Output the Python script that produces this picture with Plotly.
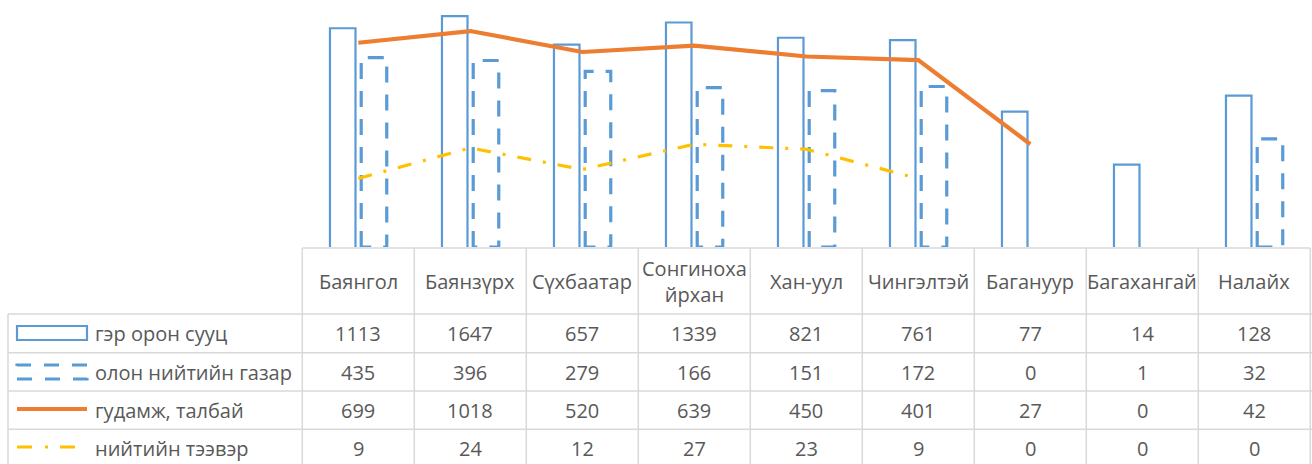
import plotly.graph_objects as go

categories = ["Баянгол", "Баянзүрх", "Сүхбаатар", "Сонгинохайрхан", "Хан-уул",
              "Чингэлтэй", "Багануур", "Багахангай", "Налайх"]
header_labels = ["Баянгол", "Баянзүрх", "Сүхбаатар", "Сонгиноха<br>йрхан", "Хан-уул",
                 "Чингэлтэй", "Багануур", "Багахангай", "Налайх"]
ger = [1113, 1647, 657, 1339, 821, 761, 77, 14, 128]
olon = [435, 396, 279, 166, 151, 172, 0, 1, 32]
gudamj = [699, 1018, 520, 639, 450, 401, 27, 0, 42]
teever = [9, 24, 12, 27, 23, 9, 0, 0, 0]
series_names = ["гэр орон сууц", "олон нийтийн газар", "гудамж, талбай", "нийтийн тээвэр"]

W, H = 1312, 464
BLUE = "#5B9BD5"
ORANGE = "#ED7D31"
YELLOW = "#FFC000"
GRID = "#D9D9D9"
TXT = "#595959"
FONT = "Open Sans"
FS = 20

xs = list(range(len(categories)))
PX = 112.0          # pixels per category
CX0 = 358.3         # pixel centre of first category
BW = 0.228          # bar width (category units)
OFF1 = -0.139 - BW / 2
OFF2 = 0.14 - BW / 2


def pos(v):
    return [x if x and x > 0 else None for x in v]


def py(p):
    return 1 - p / H


fig = go.Figure()

fig.add_trace(go.Bar(x=xs, y=pos(ger), width=BW, offset=OFF1, name=series_names[0],
                     marker=dict(color="white", line=dict(color=BLUE, width=2.2))))

# dashed outlined bars (plotly bar outlines cannot be dashed -> outline path from data)
ox, oy = [], []
for i, v in zip(xs, olon):
    if v > 1:
        x0, x1 = i + OFF2, i + OFF2 + BW
        ox += [x0, x0, x1, x1, x0, None]
        oy += [1, v, v, 1, 1, None]
fig.add_trace(go.Bar(x=xs, y=pos(olon), width=BW, offset=OFF2, name=series_names[1],
                     marker=dict(color="rgba(255,255,255,0)", line=dict(width=0)),
                     showlegend=False))
fig.add_trace(go.Scatter(x=ox, y=oy, mode="lines", name=series_names[1],
                         line=dict(color=BLUE, width=3.2, dash="16px,12px"),
                         hoverinfo="skip"))

fig.add_trace(go.Scatter(x=xs, y=pos(gudamj), mode="lines", name=series_names[2],
                         line=dict(color=ORANGE, width=4.2), connectgaps=False))
fig.add_trace(go.Scatter(x=xs, y=pos(teever), mode="lines", name=series_names[3],
                         line=dict(color=YELLOW, width=3.2, dash="14px,12px,3px,12px"),
                         connectgaps=False))

shapes = []
ann = []

# table grid
x_left = -0.5
x_right = len(categories) - 0.5
shapes.append(dict(type="line", xref="x", yref="paper", x0=x_left, x1=x_right,
                   y0=py(248), y1=py(248), line=dict(color=GRID, width=1.5)))
row_lines = [314, 352.7, 391, 429.3]
for r in row_lines:
    shapes.append(dict(type="line", xref="paper", yref="paper", x0=8 / W, x1=1,
                       y0=py(r), y1=py(r), line=dict(color=GRID, width=1.5)))
for k in range(len(categories) + 1):
    shapes.append(dict(type="line", xref="x", yref="paper", x0=k - 0.5, x1=k - 0.5,
                       y0=py(248), y1=0, line=dict(color=GRID, width=1.5)))
shapes.append(dict(type="line", xref="paper", yref="paper", x0=8 / W, x1=8 / W,
                   y0=py(314), y1=0, line=dict(color=GRID, width=1.5)))

# header
for i, lab in enumerate(header_labels):
    ann.append(dict(x=i, y=py(281), xref="x", yref="paper", text=lab, showarrow=False,
                    font=dict(family=FONT, size=FS, color=TXT), xanchor="center",
                    yanchor="middle"))

# rows
row_centres = [333.5, 372, 410, 448.5]
for vals, yc in zip([ger, olon, gudamj, teever], row_centres):
    for i, v in enumerate(vals):
        ann.append(dict(x=i, y=py(yc), xref="x", yref="paper", text=str(v), showarrow=False,
                        font=dict(family=FONT, size=FS, color=TXT), xanchor="center",
                        yanchor="middle"))

for name, yc in zip(series_names, row_centres):
    ann.append(dict(x=93 / W, y=py(yc), xref="paper", yref="paper", text=name,
                    showarrow=False, font=dict(family=FONT, size=FS, color=TXT),
                    xanchor="left", yanchor="middle"))

# legend keys inside table
shapes.append(dict(type="rect", xref="paper", yref="paper", x0=17 / W, x1=87 / W,
                   y0=py(340), y1=py(326), line=dict(color=BLUE, width=2.2),
                   fillcolor="rgba(0,0,0,0)"))
shapes.append(dict(type="rect", xref="paper", yref="paper", x0=17 / W, x1=87 / W,
                   y0=py(379), y1=py(365), line=dict(color=BLUE, width=3.2, dash="15px,13px"),
                   fillcolor="rgba(0,0,0,0)"))
shapes.append(dict(type="line", xref="paper", yref="paper", x0=17 / W, x1=87 / W,
                   y0=py(409), y1=py(409), line=dict(color=ORANGE, width=4.2)))
shapes.append(dict(type="line", xref="paper", yref="paper", x0=17 / W, x1=78 / W,
                   y0=py(447), y1=py(447),
                   line=dict(color=YELLOW, width=3.2, dash="15px,13px,3px,12px")))

fig.update_layout(
    width=W, height=H,
    margin=dict(l=0, r=0, t=0, b=0),
    paper_bgcolor="white", plot_bgcolor="white",
    showlegend=False, barmode="overlay",
    xaxis=dict(range=[-CX0 / PX, (W - CX0) / PX], visible=False, domain=[0, 1]),
    yaxis=dict(type="log", range=[0, 247 / 71.8], visible=False,
               domain=[1 - 247 / H, 1]),
    shapes=shapes, annotations=ann,
)

fig.write_html("out.html", config={"displayModeBar": False},
               post_script="document.body.style.margin='0';")
